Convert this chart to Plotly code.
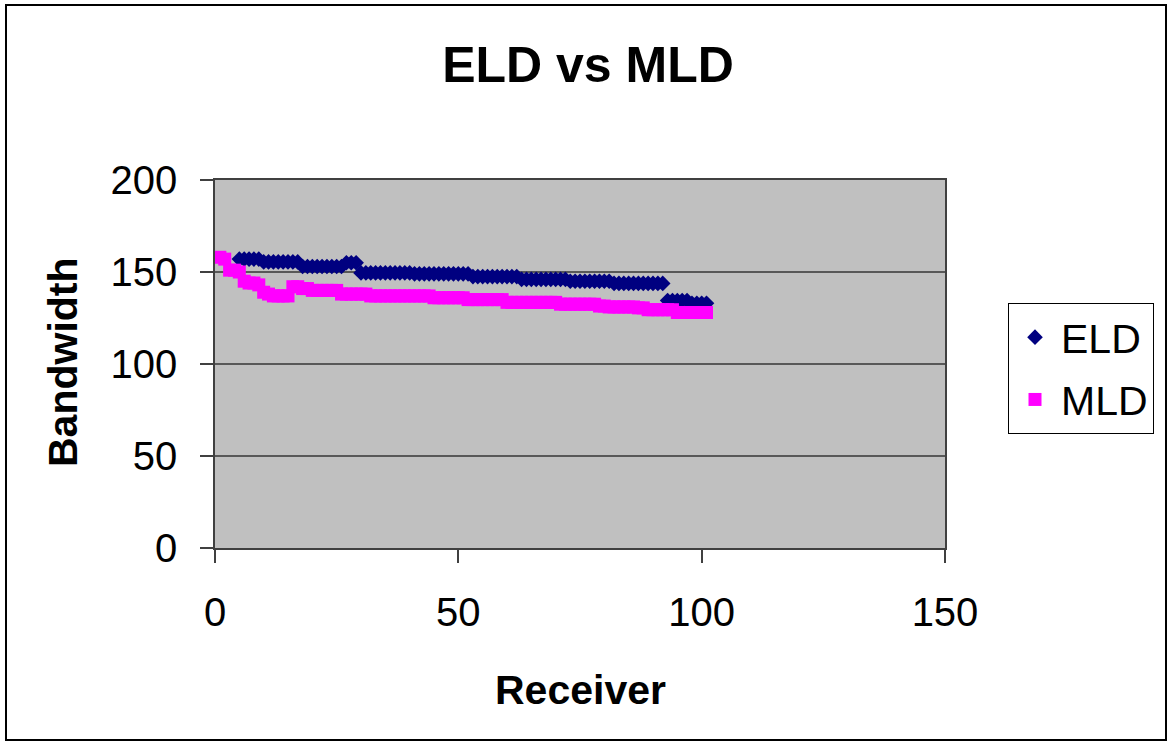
import plotly.graph_objects as go

# ---- data ----
eld_receivers = list(range(5, 102))
eld_bandwidth = [
    157, 157, 157, 157, 157,
    155.5, 155.5, 155.5, 155.5, 155.5, 155.5, 155.5, 155.5,
    153, 153, 153, 153, 153, 153, 153, 153, 153,
    155, 155, 155,
    149.5, 149.5, 149.5, 149.5, 149.5, 149.5, 149.5, 149.5, 149.5, 149.5, 149.5,
    149, 149, 149, 149, 149, 149, 149, 149, 149, 149, 149, 149,
    147.5, 147.5, 147.5, 147.5, 147.5, 147.5, 147.5, 147.5, 147.5, 147.5,
    146, 146, 146, 146, 146, 146, 146, 146, 146, 146,
    145, 145, 145, 145, 145, 145, 145, 145, 145,
    143.8, 143.8, 143.8, 143.8, 143.8, 143.8, 143.8, 143.8, 143.8, 143.8, 143.8,
    134.5, 134.5, 134.5, 134.5, 134.5,
    133, 133, 133, 133,
]

mld_receivers = list(range(1, 102))
mld_bandwidth = [
    158, 157, 151, 151, 150, 145, 144, 144, 143, 139,
    138, 137, 137, 137, 137, 142, 142, 141, 141, 140,
    140, 140, 140, 140, 140, 138, 138, 138, 138, 138, 138,
    137, 137, 137, 137, 137, 137, 137, 137, 137, 137, 137, 137, 137,
    136, 136, 136, 136, 136, 136, 136,
    135, 135, 135, 135, 135, 135, 135, 135,
    133.5, 133.5, 133.5, 133.5, 133.5, 133.5, 133.5, 133.5, 133.5, 133.5, 133.5,
    132.5, 132.5, 132.5, 132.5, 132.5, 132.5, 132.5, 132.5,
    131.5, 131.5,
    131, 131, 131, 131, 131, 131,
    130.5, 130.5,
    129.5, 129.5, 129.5, 129.5, 129.5, 129.5,
    128, 128, 128, 128, 128, 128, 128,
]

x_ticks = [0, 50, 100, 150]
y_ticks = [0, 50, 100, 150, 200]

FONT = "Liberation Sans, Arial, sans-serif"

fig = go.Figure()
fig.add_trace(go.Scatter(
    x=eld_receivers, y=eld_bandwidth, mode="markers", name="ELD",
    legendgroup="a",
    marker=dict(symbol="diamond", size=12, color="#000080", line=dict(width=0)),
))
fig.add_trace(go.Scatter(
    x=mld_receivers, y=mld_bandwidth, mode="markers", name="MLD",
    legendgroup="b",
    marker=dict(symbol="square", size=13, color="#FF00FF", line=dict(width=0)),
))

L, R, T, B = 215, 945, 180, 548
W, H = 1170, 744
pw, ph = R - L, B - T


def px(x):
    return (x - L) / pw


def py(y):
    return (B - y) / ph


fig.update_layout(
    width=W, height=H, autosize=False,
    margin=dict(l=L, r=W - R, t=T, b=H - B, pad=0),
    paper_bgcolor="white",
    plot_bgcolor="#C0C0C0",
    font=dict(family=FONT, size=40, color="black"),
    title=dict(text="<b>ELD vs MLD</b>", x=588 / W, xref="container", xanchor="center",
               y=1 - 64 / H, yref="container", yanchor="middle",
               font=dict(family=FONT, size=50, color="black")),
    showlegend=True,
    legend=dict(x=px(1008), y=py(303), xanchor="left", yanchor="top",
                bordercolor="#000000", borderwidth=1, bgcolor="white",
                font=dict(family=FONT, size=41, color="black"),
                traceorder="grouped", tracegroupgap=6,
                itemwidth=42),
    xaxis=dict(range=[0, 150], tickvals=x_ticks, ticks="outside", ticklen=13,
               tickcolor="#404040", tickwidth=1.5,
               showline=True, linecolor="#404040", linewidth=1.5, mirror=True,
               showgrid=False, zeroline=False,
               tickfont=dict(family=FONT, size=40), ticklabelstandoff=15),
    yaxis=dict(range=[0, 200], tickvals=y_ticks, ticks="outside", ticklen=13,
               tickcolor="#404040", tickwidth=1.5,
               showline=True, linecolor="#404040", linewidth=1.5, mirror=True,
               showgrid=True, gridcolor="#585858", gridwidth=1.5, zeroline=False,
               tickfont=dict(family=FONT, size=40), ticklabelstandoff=15),
    annotations=[
        dict(text="<b>Receiver</b>", xref="paper", yref="paper",
             x=px(580), y=py(690), xanchor="center", yanchor="middle",
             showarrow=False, font=dict(family=FONT, size=41, color="black")),
        dict(text="<b>Bandwidth</b>", xref="paper", yref="paper",
             x=px(63), y=py(362), xanchor="center", yanchor="middle", textangle=-90,
             showarrow=False, font=dict(family=FONT, size=41, color="black")),
    ],
    shapes=[
        dict(type="rect", xref="paper", yref="paper",
             x0=px(6), x1=px(1166), y0=py(740), y1=py(5),
             line=dict(color="black", width=2), fillcolor="rgba(0,0,0,0)", layer="below"),
    ],
)

fig.write_html("out.html")
